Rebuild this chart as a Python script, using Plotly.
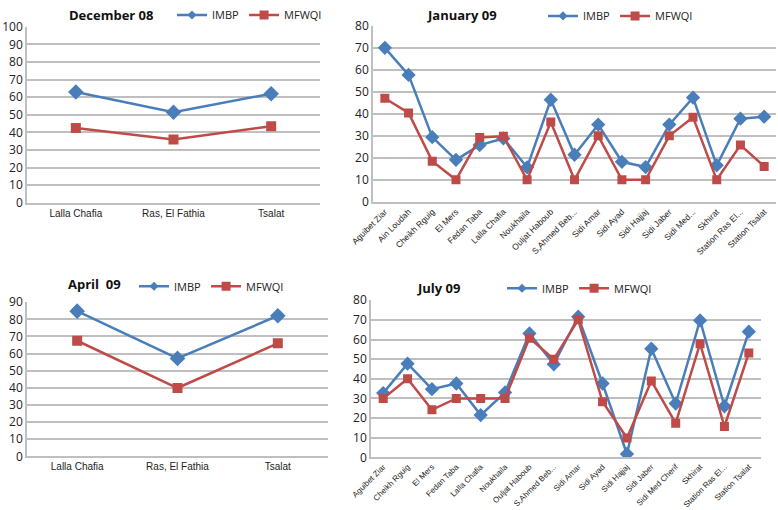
import plotly.graph_objects as go

# ---------------- data ----------------
dec_sites = ["Lalla Chafia", "Ras, El Fathia", "Tsalat"]
dec_imbp = [63, 51.5, 62]
dec_mfwqi = [42.5, 36, 43.5]

jan_sites = ["Aguibet Ziar", "Ain Loudah", "Cheikh Rguig", "El Mers", "Fedan Taba",
             "Lalla Chafia", "Noukhaila", "Ouljat Haboub", "S,Ahmed Beb...", "Sidi Amar",
             "Sidi Ayad", "Sidi Hajjaj", "Sidi Jaber", "Sidi Med...", "Skhirat",
             "Station Ras El...", "Station Tsalat"]
jan_imbp = [70, 57.7, 29.4, 19.1, 25.8, 28.8, 15.7, 46.4, 21.4, 35.1,
            18.2, 15.8, 35.1, 47.4, 16.6, 37.8, 38.7]
jan_mfwqi = [47.1, 40.4, 18.5, 10, 29.2, 29.8, 10, 36.3, 10, 30,
             10, 10, 30, 38.4, 10, 25.8, 16.1]

apr_sites = ["Lalla Chafia", "Ras, El Fathia", "Tsalat"]
apr_imbp = [84.8, 57.2, 82.1]
apr_mfwqi = [67.5, 39.9, 66]

jul_sites = ["Aguibet Ziar", "Cheikh Rguig", "El Mers", "Fedan Taba", "Lalla Chafia",
             "Noukhaila", "Ouljat Haboub", "S,Ahmed Beb...", "Sidi Amar", "Sidi Ayad",
             "Sidi Hajjaj", "Sidi Jaber", "Sidi Med Cherif", "Skhirat",
             "Station Ras El...", "Station Tsalat"]
jul_imbp = [32.7, 47.7, 34.7, 37.6, 21.5, 33, 63.1, 47.4, 71.6, 37.6,
            1.7, 55.3, 27.4, 69.7, 26, 64]
jul_mfwqi = [30, 40, 24.2, 30, 30, 30, 60.7, 50, 70, 28.3,
             9.8, 38.9, 17.4, 57.9, 15.7, 53.1]

titles = ["December 08", "January 09", "April  09", "July 09"]
y_max = [100, 80, 90, 80]
series_names = ["IMBP", "MFWQI"]

# ---------------- style ----------------
W, H = 778, 510
BLUE = "#4A7EBB"
RED = "#BE4B48"
GRID = "#BFBFBF"
FONT = "Open Sans"
NARROW = "Liberation Sans Narrow, Arial Narrow, Liberation Sans"

panels = [
    dict(sites=dec_sites, imbp=dec_imbp, mfwqi=dec_mfwqi, px=(27, 320), py=(24, 201),
         title_xy=(111, 12), leg_xy=(172, 12), angle=0, msize=10, tsize=10),
    dict(sites=jan_sites, imbp=jan_imbp, mfwqi=jan_mfwqi, px=(373, 776), py=(23, 200),
         title_xy=(462, 12), leg_xy=(543, 13), angle=-45, msize=9, tsize=8.5),
    dict(sites=apr_sites, imbp=apr_imbp, mfwqi=apr_mfwqi, px=(27, 328), py=(301, 456),
         title_xy=(94, 283), leg_xy=(134, 285), angle=0, msize=10, tsize=10),
    dict(sites=jul_sites, imbp=jul_imbp, mfwqi=jul_mfwqi, px=(371, 761), py=(299, 457),
         title_xy=(438, 287), leg_xy=(502, 287), angle=-45, msize=9, tsize=8),
]

fig = go.Figure()
layout = dict(
    width=W, height=H, margin=dict(l=0, r=0, t=0, b=0),
    paper_bgcolor="white", plot_bgcolor="white",
    font=dict(family=FONT, color="#222222", size=11),
    annotations=[],
)

for i, p in enumerate(panels):
    n = i + 1
    xa = "x" if n == 1 else f"x{n}"
    ya = "y" if n == 1 else f"y{n}"
    leg = "legend" if n == 1 else f"legend{n}"
    # data traces
    fig.add_trace(go.Scatter(
        x=p["sites"], y=p["imbp"], name=series_names[0], mode="lines+markers",
        line=dict(color=BLUE, width=2.5),
        marker=dict(symbol="diamond", size=p["msize"] + 2, color=BLUE),
        xaxis=xa, yaxis=ya, showlegend=False))
    fig.add_trace(go.Scatter(
        x=p["sites"], y=p["mfwqi"], name=series_names[1], mode="lines+markers",
        line=dict(color=RED, width=2.5),
        marker=dict(symbol="square", size=p["msize"], color=RED),
        xaxis=xa, yaxis=ya, showlegend=False))
    # legend-only entries (small legend markers as in the original)
    fig.add_trace(go.Scatter(
        x=[None], y=[None], name=series_names[0], mode="lines+markers",
        line=dict(color=BLUE, width=2.5),
        marker=dict(symbol="diamond", size=7, color=BLUE),
        xaxis=xa, yaxis=ya, legend=leg))
    fig.add_trace(go.Scatter(
        x=[None], y=[None], name=series_names[1], mode="lines+markers",
        line=dict(color=RED, width=2.5),
        marker=dict(symbol="square", size=9, color=RED),
        xaxis=xa, yaxis=ya, legend=leg))

    x0, x1 = p["px"]
    yt, yb = p["py"]
    xkey = "xaxis" if n == 1 else f"xaxis{n}"
    ykey = "yaxis" if n == 1 else f"yaxis{n}"
    layout[xkey] = dict(
        domain=[x0 / W, x1 / W], anchor=ya, type="category",
        categoryorder="array", categoryarray=p["sites"],
        range=[-0.5, len(p["sites"]) - 0.5], automargin=False,
        showline=True, linecolor=GRID, linewidth=1.5, showgrid=False,
        tickangle=p["angle"],
        tickfont=dict(size=p["tsize"], family=NARROW),
        ticks="", fixedrange=True)
    layout[ykey] = dict(
        domain=[1 - yb / H, 1 - yt / H], anchor=xa, automargin=False,
        range=[0, y_max[i]], dtick=10, tick0=0,
        showline=True, linecolor=GRID, linewidth=1.5,
        showgrid=True, gridcolor=GRID, gridwidth=1.5,
        zeroline=False, tickfont=dict(size=12), ticks="", fixedrange=True)
    lx, ly = p["leg_xy"]
    layout[leg] = dict(
        x=lx / W, y=1 - ly / H, xanchor="left", yanchor="middle",
        orientation="h", bgcolor="rgba(0,0,0,0)",
        font=dict(size=11), itemwidth=30,
        tracegroupgap=0, itemsizing="trace")
    tx, ty = p["title_xy"]
    layout["annotations"].append(dict(
        text=f"<b>{titles[i]}</b>", x=tx / W, y=1 - ty / H, xref="paper", yref="paper",
        showarrow=False, xanchor="center", yanchor="middle",
        font=dict(size=13, color="#111111", family=FONT)))

fig.update_layout(**layout)
fig.write_html("out.html", config={"displayModeBar": False},
               post_script="document.body.style.margin='0px';")
